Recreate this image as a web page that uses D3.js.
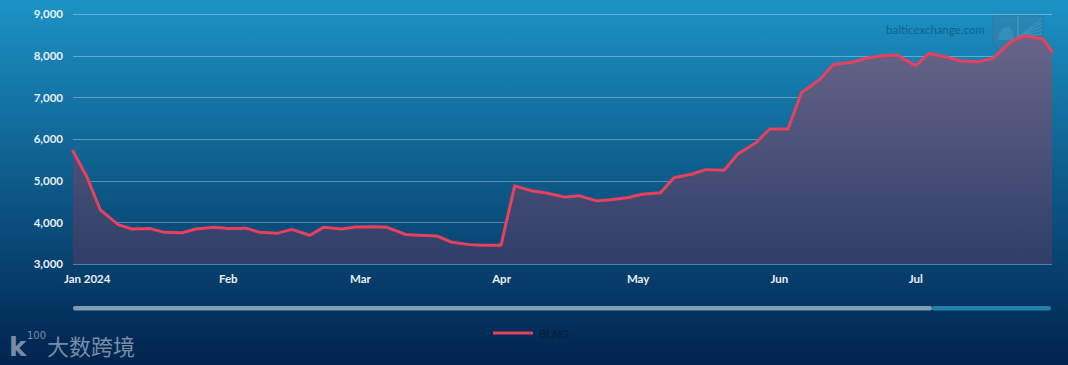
<!DOCTYPE html>
<html><head><meta charset="utf-8">
<script src="https://cdn.jsdelivr.net/npm/d3@7"></script>
<style>html,body{margin:0;padding:0;overflow:hidden;background:#04305c}</style>
</head><body><svg id="c" width="1068" height="365"></svg>
<script>
// ---- data ----
const dates = ["2023-12-29","2024-01-01","2024-01-04","2024-01-08","2024-01-11","2024-01-15","2024-01-18","2024-01-22","2024-01-25","2024-01-29",
"2024-02-01","2024-02-05","2024-02-08","2024-02-12","2024-02-15","2024-02-19","2024-02-22","2024-02-26","2024-02-29",
"2024-03-04","2024-03-07","2024-03-11","2024-03-14","2024-03-18","2024-03-21","2024-03-25","2024-03-28",
"2024-04-01","2024-04-04","2024-04-08","2024-04-11","2024-04-15","2024-04-18","2024-04-22","2024-04-25","2024-04-29",
"2024-05-02","2024-05-06","2024-05-09","2024-05-13","2024-05-16","2024-05-20","2024-05-23","2024-05-27","2024-05-30",
"2024-06-03","2024-06-06","2024-06-10","2024-06-13","2024-06-17","2024-06-20","2024-06-24","2024-06-27",
"2024-07-01","2024-07-04","2024-07-08","2024-07-11","2024-07-15","2024-07-18","2024-07-22","2024-07-25","2024-07-29","2024-07-31"];
const blngValues = [5710,5100,4300,3940,3840,3850,3760,3750,3840,3880,
3850,3860,3760,3740,3830,3690,3880,3840,3890,
3895,3880,3710,3690,3670,3530,3465,3450,
3450,4875,4750,4705,4605,4640,4515,4540,4595,
4672,4708,5072,5160,5265,5250,5640,5910,6240,
6240,7110,7430,7790,7840,7936,8000,8016,
7760,8056,7960,7872,7856,7936,8336,8480,8400,8096];
const yTickValues = [3000,4000,5000,6000,7000,8000,9000];
const monthTickDates = ["2024-01-01","2024-02-01","2024-03-01","2024-04-01","2024-05-01","2024-06-01","2024-07-01"];
const monthTickLabels = ["Jan 2024","Feb","Mar","Apr","May","Jun","Jul"];
const seriesName = "BLNG";
const sourceText = "balticexchange.com";
const watermarkText = "大数跨境";

// ---- layout ----
const W = 1068, H = 365;
const L = 73, R = 1052, T = 14, B = 264;
const parse = d3.timeParse("%Y-%m-%d");
const data = dates.map((d,i)=>({date:parse(d), value:blngValues[i]}));

const svg = d3.select("#c");
const defs = svg.append("defs");
const bg = defs.append("linearGradient").attr("id","bg").attr("x1",0).attr("y1",0).attr("x2",0).attr("y2",1);
bg.append("stop").attr("offset","0%").attr("stop-color","#1c93c6");
bg.append("stop").attr("offset","50%").attr("stop-color","#0d5a89");
bg.append("stop").attr("offset","100%").attr("stop-color","#01234f");
const af = defs.append("linearGradient").attr("id","af").attr("gradientUnits","userSpaceOnUse")
  .attr("x1",0).attr("y1",T).attr("x2",0).attr("y2",B);
af.append("stop").attr("offset","0%").attr("stop-color","#726689");
af.append("stop").attr("offset","100%").attr("stop-color","#303e68");

svg.append("rect").attr("width",W).attr("height",H).attr("fill","url(#bg)");

const x = d3.scaleTime().domain(d3.extent(data,d=>d.date)).range([L,R]);
const y = d3.scaleLinear().domain([3000,9000]).range([B,T]);

// source watermark
svg.append("text").attr("x",985).attr("y",34).attr("text-anchor","end")
  .attr("font-family","Lato, 'DejaVu Sans', sans-serif").attr("font-size",11.5)
  .attr("fill","#0d3b5e").attr("fill-opacity",0.55).text(sourceText);
// shield logo
const sh = svg.append("g").attr("opacity",0.22);
sh.append("path").attr("d","M993,16 L1043,16 L1043,40 Q1040,55 1018,64 Q996,55 993,40 Z")
  .attr("fill","#6a6a8a").attr("stroke","#3a4a6a").attr("stroke-width",1);
sh.append("line").attr("x1",1018).attr("y1",16).attr("x2",1018).attr("y2",64).attr("stroke","#b8c0d0").attr("stroke-width",1.5);
for(let i=0;i<6;i++){
  sh.append("line").attr("x1",1020).attr("y1",36).attr("x2",1042).attr("y2",18+i*4).attr("stroke","#b8c0d0").attr("stroke-width",1);
}
sh.append("path").attr("d","M998,36 Q1004,22 1012,30 L1014,40 L998,40 Z").attr("fill","#9aa6ba");

// gridlines + y labels
const yAxis = d3.axisLeft(y).tickValues(yTickValues).tickSize(-(R-L)).tickPadding(10).tickFormat(d3.format(","));
const gy = svg.append("g").attr("transform",`translate(${L},0)`).call(yAxis);
gy.select(".domain").remove();
gy.selectAll(".tick line").attr("stroke","#ffffff").attr("stroke-opacity",0.32).attr("shape-rendering","crispEdges");
gy.selectAll(".tick text").attr("fill","#e8eff5").attr("font-family","Lato, 'DejaVu Sans', sans-serif")
  .attr("font-size",11.5).attr("font-weight","bold");

// area + line
const area = d3.area().x(d=>x(d.date)).y0(B).y1(d=>y(d.value));
const line = d3.line().x(d=>x(d.date)).y(d=>y(d.value));
svg.append("path").datum(data).attr("d",area).attr("fill","url(#af)").attr("fill-opacity",0.95);
svg.append("path").datum(data).attr("d",line).attr("fill","none").attr("stroke","#e8405d")
  .attr("stroke-width",3).attr("stroke-linejoin","round").attr("stroke-linecap","round");

// x axis
const xAxis = d3.axisBottom(x).tickValues(monthTickDates.map(parse)).tickSize(0).tickPadding(11)
  .tickFormat((d,i)=>monthTickLabels[i]);
const gx = svg.append("g").attr("transform",`translate(0,${B})`).call(xAxis);
gx.select(".domain").remove();
gx.selectAll(".tick text").attr("fill","#e8eff5").attr("font-family","Lato, 'DejaVu Sans', sans-serif")
  .attr("font-size",11.5).attr("font-weight","bold");

// scrollbar (navigator)
svg.append("rect").attr("x",73).attr("y",306).attr("width",932-73).attr("height",4.5).attr("rx",2)
  .attr("fill","#7f9cb3");
svg.append("rect").attr("x",932).attr("y",306).attr("width",1051-932).attr("height",4.5).attr("rx",2)
  .attr("fill","#2181ab");

// legend
svg.append("line").attr("x1",493).attr("x2",533).attr("y1",333).attr("y2",333)
  .attr("stroke","#e8405d").attr("stroke-width",3);
svg.append("text").attr("x",539).attr("y",337.5).attr("font-family","'Liberation Sans', Arial, sans-serif")
  .attr("font-size",11).attr("fill","#0a1b33").text(seriesName);

// bottom-left watermark
const wm = svg.append("g").attr("fill","#c9d1dc").attr("fill-opacity",0.6);
wm.append("text").attr("x",9).attr("y",356).attr("font-family","'DejaVu Sans', sans-serif").attr("font-size",26)
  .attr("font-weight","bold").text("k");
wm.append("text").attr("x",27).attr("y",339).attr("font-family","'DejaVu Sans', sans-serif").attr("font-size",10)
  .text("100");
wm.append("text").attr("x",47).attr("y",355).attr("font-family","'Noto Sans CJK SC', sans-serif").attr("font-size",22)
  .text(watermarkText);
</script></body></html>
